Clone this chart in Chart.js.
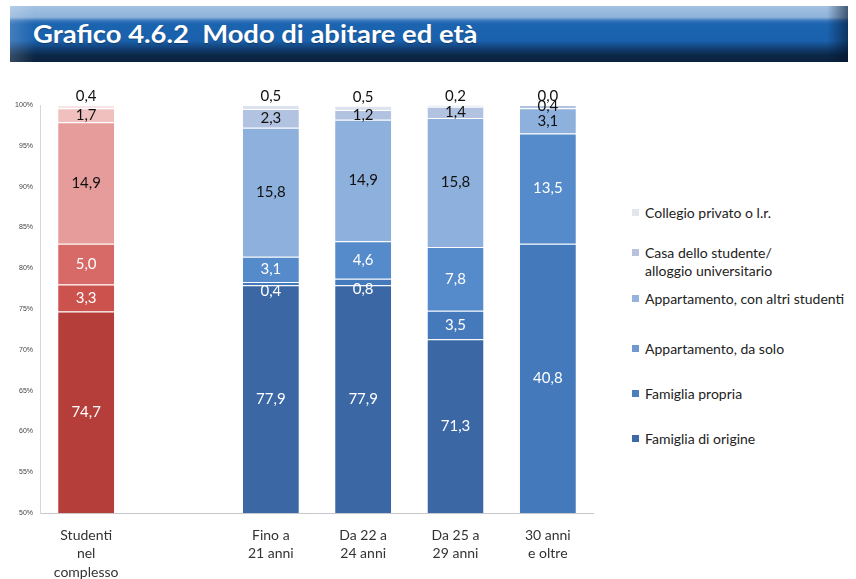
<!DOCTYPE html>
<html>
<head>
<meta charset="utf-8">
<script src="https://cdn.jsdelivr.net/npm/chart.js@4/dist/chart.umd.min.js"></script>
<style>
  body { margin: 0; background: #fff; width: 856px; height: 579px; overflow: hidden; position: relative; font-family: Lato, "Open Sans", sans-serif; }
  #banner {
    position: absolute; left: 10px; top: 6px; width: 838px; height: 56px;
    background: linear-gradient(to bottom, #a3c2e3 0%, #8fb3da 20%, #3a78bd 26%, #1b64b0 32%, #1a61ad 62%, #123f73 76%, #0b2746 88%, #0a2240 100%);
  }
  #banner .shade { position: absolute; inset: 0; background: linear-gradient(to right, rgba(255,255,255,0.18) 0%, rgba(255,255,255,0) 3%, rgba(0,0,0,0) 97.5%, rgba(5,20,45,0.6) 100%); }
  #title {
    position: absolute; left: 23px; top: 16px; color: #fff; font: bold 24px/24px Lato, "Open Sans", sans-serif;
    white-space: nowrap; transform-origin: left top; text-shadow: 0 1px 1px rgba(0,0,0,0.3);
  }
  #wrap { position: absolute; left: 0; top: 62px; width: 594px; height: 517px; }
  #legend { position: absolute; left: 632px; top: 0; width: 224px; height: 579px; }
  .item { position: absolute; left: 0; font-size: 14px; color: #222; line-height: 18px; white-space: nowrap; }
  .item i { position: absolute; left: 0; top: 5px; width: 7px; height: 7px; }
  .item span { display: block; margin-left: 13px; }
</style>
</head>
<body>
<div id="banner"><div class="shade"></div><span id="title">Grafico 4.6.2&nbsp; Modo di abitare ed età</span></div>
<div id="wrap"><canvas id="chart"></canvas></div>
<div id="legend"></div>
<script>
const categories = [["Studenti", "nel", "complesso"], "", ["Fino a", "21 anni"], ["Da 22 a", "24 anni"], ["Da 25 a", "29 anni"], ["30 anni", "e oltre"]];
const seriesNames = ["Famiglia di origine", "Famiglia propria", "Appartamento, da solo", "Appartamento, con altri studenti", ["Casa dello studente/", "alloggio universitario"], "Collegio privato o l.r."];
const famigliaOrigine = [74.7, null, 77.9, 77.9, 71.3, 42.2];
const famigliaPropria = [3.3, null, 0.4, 0.8, 3.5, 40.8];
const appDaSolo = [5.0, null, 3.1, 4.6, 7.8, 13.5];
const appConAltri = [14.9, null, 15.8, 14.9, 15.8, 3.1];
const casaStudente = [1.7, null, 2.3, 1.2, 1.4, 0.4];
const collegio = [0.4, null, 0.5, 0.5, 0.2, 0.0];
const yTicks = [50, 55, 60, 65, 70, 75, 80, 85, 90, 95, 100];

const seriesValues = [famigliaOrigine, famigliaPropria, appDaSolo, appConAltri, casaStudente, collegio];
const blues = ["#3c67a5", "#4479bc", "#558bca", "#8eb0dc", "#b1c3e1", "#dde3ee"];
const reds = ["#b63e3a", "#cc524e", "#d76966", "#e69c9a", "#f0c0bf", "#f8e4e4"];
const legendColors = ["#3e69a6", "#4a7ebd", "#6f98cc", "#95b3dc", "#b8c2dc", "#e3e6ec"];
const labelColors = ["#fff", "#fff", "#fff", "#111", "#111", "#111"];

// title squeezed to look like a condensed face
const title = document.getElementById("title");
title.style.transform = "scaleX(" + (444 / title.offsetWidth) + ")";

const datasets = seriesValues.map((values, i) => ({
  label: Array.isArray(seriesNames[i]) ? seriesNames[i].join(" ") : seriesNames[i],
  data: values,
  backgroundColor: categories.map((c, j) => (j === 0 ? reds[i] : blues[i])),
  borderColor: "rgba(255,255,255,0.55)",
  borderWidth: { top: 1 },
  borderSkipped: false,
  categoryPercentage: 1,
  barPercentage: 0.607,
}));

const valueLabels = {
  id: "valueLabels",
  afterDatasetsDraw(chart) {
    const ctx = chart.ctx;
    const area = chart.chartArea;
    ctx.save();
    ctx.font = "15px Lato, 'Open Sans', sans-serif";
    ctx.textAlign = "center";
    ctx.textBaseline = "middle";
    chart.data.datasets.forEach((ds, i) => {
      const meta = chart.getDatasetMeta(i);
      meta.data.forEach((bar, j) => {
        const v = ds.data[j];
        if (v === null || v === undefined) return;
        const top = Math.max(Math.min(bar.y, bar.base), area.top);
        const bottom = Math.min(Math.max(bar.y, bar.base), area.bottom);
        if (top >= area.bottom) return; // segment hidden under the axis minimum
        let y = (top + bottom) / 2;
        if (i === chart.data.datasets.length - 1) y = bar.y - 9;
        else if (bottom - top < 8 && i === 1) y += 7;
        ctx.fillStyle = labelColors[i];
        ctx.fillText(v.toFixed(1).replace(".", ","), bar.x, y);
      });
    });
    ctx.restore();
  },
};

new Chart(document.getElementById("chart"), {
  type: "bar",
  data: { labels: categories, datasets: datasets },
  plugins: [valueLabels],
  options: {
    responsive: true,
    maintainAspectRatio: false,
    animation: false,
    layout: { padding: { top: 43, left: 0, right: 0, bottom: 0 } },
    plugins: { legend: { display: false }, tooltip: { enabled: false } },
    scales: {
      x: {
        stacked: true,
        grid: { display: false, drawTicks: false },
        border: { color: "#c8c8cc" },
        ticks: { color: "#333", padding: 13, maxRotation: 0, autoSkip: false, font: { family: "Lato", size: 14, lineHeight: 1.32 } },
        afterFit: (scale) => { scale.height = 66; },
      },
      y: {
        stacked: true,
        min: yTicks[0],
        max: yTicks[yTicks.length - 1],
        afterBuildTicks: (scale) => { scale.ticks = yTicks.map((v) => ({ value: v })); },
        grid: { display: false, drawTicks: false },
        border: { color: "#d6d6de" },
        ticks: { color: "#444", padding: 7, font: { family: "Liberation Sans", size: 7 }, callback: (v) => v + "%" },
        afterFit: (scale) => { scale.width = 40; },
      },
    },
  },
});

// legend, top item = last series
const legend = document.getElementById("legend");
const legendTops = [430, 385, 340, 290, 244, 204];
seriesNames.forEach((name, i) => {
  const d = document.createElement("div");
  d.className = "item";
  d.style.top = legendTops[i] + "px";
  const lines = Array.isArray(name) ? name : [name];
  d.innerHTML = '<i style="background:' + legendColors[i] + '"></i><span>' + lines.join("<br>") + "</span>";
  legend.appendChild(d);
});
</script>
</body>
</html>
